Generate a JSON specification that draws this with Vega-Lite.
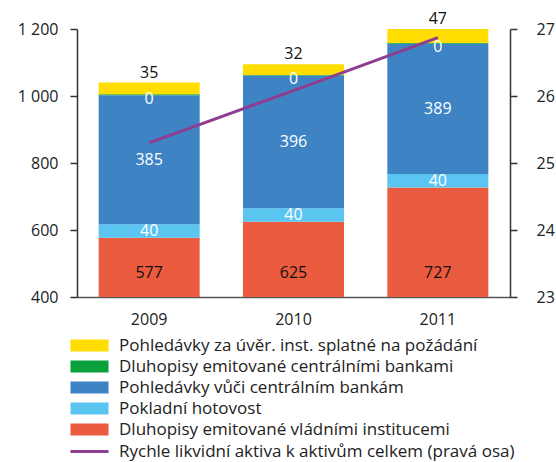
{
  "$schema": "https://vega.github.io/schema/vega-lite/v6.json",
  "width": 433,
  "height": 268,
  "autosize": "none",
  "padding": {"left": 77, "top": 29, "right": 46, "bottom": 165},
  "config": {
    "font": "Open Sans",
    "view": {"stroke": null},
    "axis": {"labelFont": "Open Sans", "labelFontSize": 16, "labelColor": "#222222", "domainColor": "#333333", "tickColor": "#333333", "domainWidth": 1.5, "tickWidth": 1.5, "grid": false, "title": null},
    "legend": {"labelFont": "Open Sans", "labelFontSize": 17, "labelColor": "#222222", "labelLimit": 600}
  },
  "layer": [
    {
      "data": {"values": [
        {"year": "2009", "series": "Dluhopisy emitované vládními institucemi", "value": 577, "label": "577"},
        {"year": "2009", "series": "Pokladní hotovost", "value": 40, "label": "40"},
        {"year": "2009", "series": "Pohledávky vůči centrálním bankám", "value": 385, "label": "385"},
        {"year": "2009", "series": "Dluhopisy emitované centrálními bankami", "value": 3, "label": "0"},
        {"year": "2009", "series": "Pohledávky za úvěr. inst. splatné na požádání", "value": 35, "label": "35"},
        {"year": "2010", "series": "Dluhopisy emitované vládními institucemi", "value": 625, "label": "625"},
        {"year": "2010", "series": "Pokladní hotovost", "value": 40, "label": "40"},
        {"year": "2010", "series": "Pohledávky vůči centrálním bankám", "value": 396, "label": "396"},
        {"year": "2010", "series": "Dluhopisy emitované centrálními bankami", "value": 2, "label": "0"},
        {"year": "2010", "series": "Pohledávky za úvěr. inst. splatné na požádání", "value": 32, "label": "32"},
        {"year": "2011", "series": "Dluhopisy emitované vládními institucemi", "value": 727, "label": "727"},
        {"year": "2011", "series": "Pokladní hotovost", "value": 40, "label": "40"},
        {"year": "2011", "series": "Pohledávky vůči centrálním bankám", "value": 389, "label": "389"},
        {"year": "2011", "series": "Dluhopisy emitované centrálními bankami", "value": 2, "label": "0"},
        {"year": "2011", "series": "Pohledávky za úvěr. inst. splatné na požádání", "value": 47, "label": "47"}
      ]},
      "transform": [
        {"calculate": "indexof(['Dluhopisy emitované vládními institucemi','Pokladní hotovost','Pohledávky vůči centrálním bankám','Dluhopisy emitované centrálními bankami','Pohledávky za úvěr. inst. splatné na požádání'], datum.series)", "as": "ord"},
        {"stack": "value", "groupby": ["year"], "sort": [{"field": "ord", "order": "ascending"}], "as": ["y0", "y1"]},
        {"calculate": "(datum.y0 + datum.y1) / 2", "as": "mid"}
      ],
      "encoding": {
        "x": {"field": "year", "type": "nominal", "scale": {"paddingInner": 0.3, "paddingOuter": 0.15},
              "axis": {"orient": "bottom", "ticks": false, "labelAngle": 0, "labelPadding": 14, "domainColor": "#555555"}}
      },
      "layer": [
        {
          "mark": {"type": "bar"},
          "encoding": {
            "y": {"field": "y1", "type": "quantitative", "scale": {"domain": [400, 1200], "clamp": true, "nice": false, "zero": false},
                  "axis": {"orient": "left", "values": [400, 600, 800, 1000, 1200], "tickSize": 7, "labelPadding": 12, "labelExpr": "replace(format(datum.value, ','), ',', ' ')"}},
            "y2": {"field": "y0"},
            "color": {"field": "series", "type": "nominal",
              "scale": {"domain": ["Pohledávky za úvěr. inst. splatné na požádání", "Dluhopisy emitované centrálními bankami", "Pohledávky vůči centrálním bankám", "Pokladní hotovost", "Dluhopisy emitované vládními institucemi"],
                        "range": ["#FFDD00", "#0AA03C", "#3E84C5", "#5BC5F2", "#EB5B3F"]},
              "legend": {"orient": "none", "legendX": -9, "legendY": 308, "title": null, "symbolType": "M-3.17,-1H3.17V1H-3.17Z", "symbolSize": 144, "symbolStrokeWidth": 0, "symbolOffset": 13, "labelOffset": 21, "rowPadding": 3}}
          }
        },
        {
          "transform": [{"filter": "datum.series === 'Dluhopisy emitované vládními institucemi'"}],
          "mark": {"type": "text", "fontSize": 16, "color": "#111111", "dy": -24},
          "encoding": {"y": {"datum": 400}, "text": {"field": "label"}}
        },
        {
          "transform": [{"filter": "datum.series === 'Pohledávky za úvěr. inst. splatné na požádání'"}],
          "mark": {"type": "text", "fontSize": 16, "color": "#111111", "baseline": "bottom", "dy": -2},
          "encoding": {"y": {"field": "y1", "type": "quantitative"}, "text": {"field": "label"}}
        },
        {
          "transform": [{"filter": "datum.series === 'Dluhopisy emitované centrálními bankami'"}],
          "mark": {"type": "text", "fontSize": 16, "color": "#FFFFFF", "dy": 4},
          "encoding": {"y": {"field": "mid", "type": "quantitative"}, "text": {"field": "label"}}
        },
        {
          "transform": [{"filter": "datum.series === 'Pokladní hotovost' || datum.series === 'Pohledávky vůči centrálním bankám'"}],
          "mark": {"type": "text", "fontSize": 16, "color": "#FFFFFF"},
          "encoding": {"y": {"field": "mid", "type": "quantitative"}, "text": {"field": "label"}}
        }
      ]
    },
    {
      "data": {"values": [
        {"year": "2009", "ratio": 25.3, "s": "Rychle likvidní aktiva k aktivům celkem (pravá osa)"},
        {"year": "2010", "ratio": 26.08, "s": "Rychle likvidní aktiva k aktivům celkem (pravá osa)"},
        {"year": "2011", "ratio": 26.87, "s": "Rychle likvidní aktiva k aktivům celkem (pravá osa)"}
      ]},
      "mark": {"type": "line", "strokeWidth": 3},
      "encoding": {
        "x": {"field": "year", "type": "nominal"},
        "y": {"field": "ratio", "type": "quantitative", "scale": {"domain": [23, 27], "nice": false, "zero": false},
              "axis": {"orient": "right", "values": [23, 24, 25, 26, 27], "format": "d", "tickSize": 7, "labelPadding": 19}},
        "stroke": {"field": "s", "type": "nominal", "scale": {"range": ["#8E3D8F"]},
          "legend": {"orient": "none", "legendX": -9, "legendY": 414, "title": null, "symbolType": "M-3.17,0H3.17", "symbolSize": 144, "symbolStrokeWidth": 3, "symbolOffset": 13, "labelOffset": 21}}
      }
    }
  ],
  "resolve": {"scale": {"y": "independent"}}
}
